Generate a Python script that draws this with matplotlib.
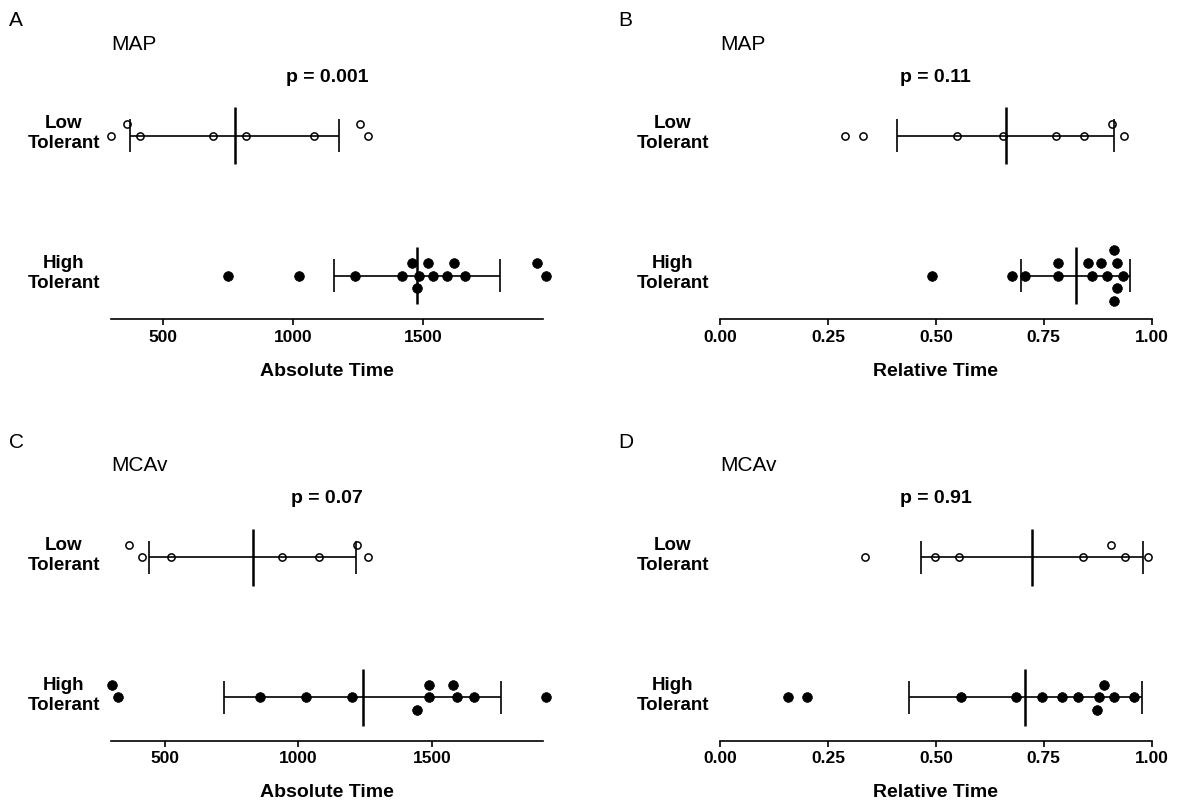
import matplotlib
matplotlib.use('Agg')
import matplotlib.pyplot as plt
import numpy as np

plt.rcParams['font.family'] = ['Liberation Sans', 'DejaVu Sans']

# values
abs_map_low = [300, 360, 412, 691, 818, 1080, 1258, 1290]
abs_map_high = [751, 1025, 1240, 1418, 1457, 1478, 1484, 1518, 1537, 1594, 1618, 1660, 1937, 1973]
rel_map_low = [0.290, 0.332, 0.549, 0.656, 0.778, 0.844, 0.907, 0.936]
rel_map_high = [0.491, 0.677, 0.707, 0.784, 0.784, 0.852, 0.861, 0.883, 0.896, 0.913, 0.913, 0.919, 0.920, 0.934]
abs_mcav_low = [366, 415, 523, 940, 1076, 1219, 1260]
abs_mcav_high = [303, 328, 858, 1027, 1198, 1441, 1486, 1486, 1577, 1593, 1657, 1923]
rel_mcav_low = [0.335, 0.499, 0.553, 0.842, 0.906, 0.937, 0.992]
rel_mcav_high = [0.157, 0.201, 0.559, 0.685, 0.747, 0.792, 0.829, 0.874, 0.878, 0.889, 0.912, 0.960]

panel_letters = ['A', 'B', 'C', 'D']
panel_titles = ['MAP', 'MAP', 'MCAv', 'MCAv']
p_labels = ['p = 0.001', 'p = 0.11', 'p = 0.07', 'p = 0.91']
x_labels = ['Absolute Time', 'Relative Time', 'Absolute Time', 'Relative Time']
group_labels = ['Low\nTolerant', 'High\nTolerant']
abs_ticks = [500, 1000, 1500]
rel_ticks = [0.0, 0.25, 0.5, 0.75, 1.0]

W, H = 1179, 803
fig = plt.figure(figsize=(W / 100, H / 100), dpi=100)


def swarm_offsets(ax, values, row_y, thr_px, step_px):
    # greedy stacking, largest value first
    px = ax.transData.transform(np.column_stack([values, np.full(len(values), row_y)]))[:, 0]
    y_per_px = 1.0 / (ax.transData.transform((0, 1))[1] - ax.transData.transform((0, 0))[1])
    order = np.argsort(values)[::-1]
    placed = {}
    ys = np.zeros(len(values))
    for i in order:
        for lvl in [0, 1, -1, 2, -2, 3, -3, 4, -4]:
            if all(abs(px[i] - q) >= thr_px for q in placed.get(lvl, [])):
                placed.setdefault(lvl, []).append(px[i])
                ys[i] = row_y + lvl * step_px * y_per_px
                break
    return ys


def draw_panel(k, left_px, axis_y_px, width_px, low, high, xlim, ticks, fmt):
    ax = fig.add_axes([left_px / W, (H - axis_y_px) / H, width_px / W, 220 / H])
    ax.set_xlim(*xlim)
    ax.set_ylim(-0.31, -0.31 + 220 / 140)
    for s in ['top', 'right', 'left']:
        ax.spines[s].set_visible(False)
    ax.spines['bottom'].set_linewidth(1.2)
    ax.set_yticks([])
    ax.set_xticks(ticks)
    ax.set_xticklabels([fmt.format(t) for t in ticks], fontsize=12.5, fontweight='bold')
    ax.tick_params(axis='x', length=4, width=1.2, pad=3)
    ax.set_xlabel(x_labels[k], fontsize=14, fontweight='bold', labelpad=13)

    for vals, row, filled in [(low, 1.0, False), (high, 0.0, True)]:
        vals = np.asarray(vals, dtype=float)
        m, sd = vals.mean(), vals.std(ddof=1)
        ax.hlines(row, m - sd, m + sd, color='black', lw=1.2, zorder=2)
        ax.vlines([m - sd, m + sd], row - 0.12, row + 0.12, color='black', lw=1.2, zorder=2)
        ax.vlines(m, row - 0.205, row + 0.205, color='black', lw=1.8, zorder=2)
        if filled:
            ys = swarm_offsets(ax, vals, row, 12.5, 12.6)
            ax.plot(vals, ys, 'o', ms=7, mfc='black', mec='black', mew=0.5,
                    ls='none', clip_on=False, zorder=3)
        else:
            ys = swarm_offsets(ax, vals, row, 14, 11.9)
            ax.plot(vals, ys, 'o', ms=5.2, mfc='none', mec='black', mew=1.1,
                    ls='none', clip_on=False, zorder=3)

    # row labels
    for lab, row in zip(group_labels, [1.0, 0.0]):
        ypx = axis_y_px - 43.4 - row * 140 - 3
        fig.text((left_px - 11) / W, (H - ypx) / H, lab, ha='right', va='center',
                 multialignment='center', fontsize=13.5, fontweight='bold', linespacing=1.2)

    top = axis_y_px - 320
    fig.text((left_px - 102) / W, (H - (top + 21)) / H, panel_letters[k],
             ha='left', va='center', fontsize=15)
    fig.text(left_px / W, (H - (top + 44)) / H, panel_titles[k],
             ha='left', va='center', fontsize=15)
    fig.text((left_px + width_px / 2) / W, (H - (top + 77)) / H, p_labels[k],
             ha='center', va='center', fontsize=14, fontweight='bold')
    return ax


draw_panel(0, 111, 320, 432, abs_map_low, abs_map_high, (300, 1962), abs_ticks, '{:.0f}')
draw_panel(1, 720, 320, 431.7, rel_map_low, rel_map_high, (0, 1), rel_ticks, '{:.2f}')
draw_panel(2, 111, 741.7, 432, abs_mcav_low, abs_mcav_high, (300, 1913), abs_ticks, '{:.0f}')
draw_panel(3, 720, 741.7, 431.7, rel_mcav_low, rel_mcav_high, (0, 1), rel_ticks, '{:.2f}')

fig.savefig('out.png', dpi=100)
